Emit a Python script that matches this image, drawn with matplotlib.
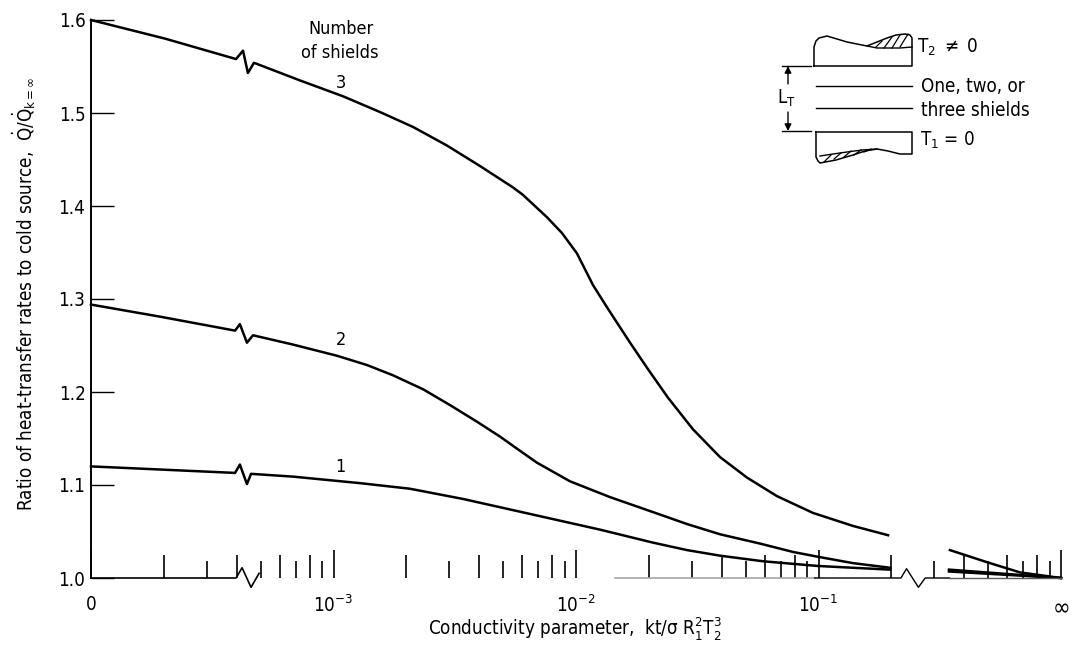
"""
Heat-transfer ratio vs conductivity parameter, one/two/three shields
(broken log axis: left end is 0, right end is infinity)
"""

import numpy as np
import matplotlib
matplotlib.use("Agg")
import matplotlib.pyplot as plt

plt.rcParams['font.family'] = ['DejaVu Sans']
plt.rcParams['font.stretch'] = 'condensed'
plt.rcParams['mathtext.fontset'] = 'custom'
plt.rcParams['mathtext.rm'] = 'DejaVu Sans:stretch=condensed'
plt.rcParams['mathtext.it'] = 'DejaVu Sans:stretch=condensed'
plt.rcParams['mathtext.bf'] = 'DejaVu Sans:stretch=condensed'
plt.rcParams['mathtext.fallback'] = 'stixsans'

# ---------------------------
# Curves (log10 of the parameter, ratio). nan = gap in the axis
# The little kinks near 10^-3.4 are the scale-break marks on each curve
# ---------------------------
nan = float('nan')

log_k3 = [-4.0, -3.695, -3.402, -3.373, -3.353, -3.328, -3.138, -2.961, -2.808, -2.672,
          -2.532, -2.396, -2.260, -2.219, -2.120, -2.058, -1.996, -1.930, -1.872, -1.777,
          -1.707, -1.621, -1.518, -1.406, -1.295, -1.171, -1.023, -0.858, -0.713, nan,
          -0.458, -0.305, -0.169, 0.0]
ratio3 = [1.600, 1.580, 1.558, 1.567, 1.543, 1.554, 1.535, 1.518, 1.501, 1.485,
          1.465, 1.443, 1.420, 1.412, 1.388, 1.371, 1.349, 1.315, 1.291, 1.253,
          1.226, 1.194, 1.160, 1.130, 1.108, 1.088, 1.070, 1.056, 1.046, nan,
          1.030, 1.017, 1.006, 1.000]

log_k2 = [-4.0, -3.715, -3.406, -3.386, -3.357, -3.332, -3.167, -2.986, -2.862, -2.755,
          -2.631, -2.520, -2.408, -2.313, -2.243, -2.161, -2.025, -1.860, -1.695, -1.542,
          -1.406, -1.241, -1.105, -1.006, -0.858, -0.705, nan, -0.462, 0.0]
ratio2 = [1.294, 1.281, 1.266, 1.273, 1.253, 1.261, 1.251, 1.239, 1.229, 1.218,
          1.203, 1.186, 1.168, 1.152, 1.139, 1.124, 1.104, 1.087, 1.072, 1.058,
          1.047, 1.037, 1.028, 1.023, 1.016, 1.011, nan, 1.009, 1.000]

log_k1 = [-4.0, -3.406, -3.386, -3.357, -3.340, -3.167, -2.891, -2.685, -2.466, -2.243,
          -1.901, -1.682, -1.542, -1.406, -1.229, -1.006, -0.858, -0.705, nan,
          -0.462, 0.0]
ratio1 = [1.120, 1.113, 1.122, 1.101, 1.112, 1.109, 1.102, 1.096, 1.085, 1.072,
          1.052, 1.038, 1.030, 1.024, 1.018, 1.013, 1.011, 1.009, nan,
          1.007, 1.000]

# Axis ticks
y_ticks = [1.0, 1.1, 1.2, 1.3, 1.4, 1.5, 1.6]
y_labels = ['1.0', '1.1', '1.2', '1.3', '1.4', '1.5', '1.6']
x_major = [1e-4, 1e-3, 1e-2, 1e-1, 1.0]
x_labels = ['0', '$10^{-3}$', '$10^{-2}$', '$10^{-1}$', r'$\infty$']
decades = [1e-4, 1e-3, 1e-2, 1e-1]
mid_mult = [2, 4, 6, 8]     # medium tick
short_mult = [3, 5, 7, 9]   # short tick

# Bottom axis pieces with the zig-zag break marks (log10 k, y)
base1_x = [-4.0, -3.402, -3.377, -3.340, -3.307]
base1_y = [1.0, 1.0, 1.011, 0.990, 1.005]
base2_x = [-1.84, -1.015]
base2_y = [1.0, 1.0]
base3_x = [-1.015, -0.70, -0.66, -0.637, -0.588, -0.56, -0.46]
base3_y = [1.0, 1.0, 1.0, 1.010, 0.990, 1.0, 1.0]
base4_x = [-0.46, 0.0]
base4_y = [1.0, 1.0]

# Inset sketch outline, in figure pixels
top_block_x = [814, 814, 816, 819, 827, 837, 847, 857, 867, 877, 887, 896, 905, 910, 912, 912, 814]
top_block_y = [66, 47, 41, 38, 36, 39, 42, 44, 46, 42, 38, 35, 34, 35, 38, 66, 66]
top_lens_x = [867, 877, 887, 900, 912]
top_lens_y = [46, 48, 48, 48, 47]
bot_block_x = [816, 816, 818, 820, 836, 853, 865, 877, 888, 900, 912, 912, 816]
bot_block_y = [132, 157, 161, 163, 160, 155, 151, 149, 151, 154, 154, 132, 132]
bot_lens_x = [820, 833, 847, 862, 877]
bot_lens_y = [156, 154, 152, 150, 149]
hatch = [((876, 47), (882, 41)), ((884, 48), (892, 37)), ((892, 48), (900, 35)), ((900, 47), (908, 34)),
         ((824, 162), (831, 155)), ((834, 159), (841, 153)), ((844, 157), (851, 151)),
         ((854, 155), (861, 150)), ((864, 152), (871, 149))]

fig = plt.figure(figsize=(10.72, 6.46), dpi=100)
ax = fig.add_axes([91 / 1072, 1 - 578 / 646, 970 / 1072, 558 / 646])

ax.plot(10 ** np.array(log_k3), ratio3, 'k-', lw=1.8, clip_on=False)
ax.plot(10 ** np.array(log_k2), ratio2, 'k-', lw=1.8, clip_on=False)
ax.plot(10 ** np.array(log_k1), ratio1, 'k-', lw=1.8, clip_on=False)

ax.plot(10 ** np.array(base1_x), base1_y, 'k-', lw=1.2, clip_on=False)
ax.plot(10 ** np.array(base2_x), base2_y, color='0.65', lw=1.2, clip_on=False)
ax.plot(10 ** np.array(base3_x), base3_y, 'k-', lw=1.0, clip_on=False)
ax.plot(10 ** np.array(base4_x), base4_y, color='0.35', lw=1.0, clip_on=False)

ax.set_xscale('log')
ax.set_xlim(1e-4, 1.0)
ax.set_ylim(1.0, 1.6)

for side in ['top', 'right', 'bottom']:
    ax.spines[side].set_visible(False)
ax.spines['left'].set_linewidth(1.4)

ax.set_yticks(y_ticks)
ax.set_yticklabels(y_labels, fontsize=13.5)
ax.tick_params(axis='y', direction='in', length=16.5, width=1.0, pad=4)

ax.set_xticks(x_major)
ax.set_xticklabels(x_labels, fontsize=13.5)
ax.tick_params(axis='x', which='major', direction='in', length=20, width=1.2, pad=12)
ax.get_xticklabels()[-1].set_fontsize(17)

# three tick heights, so the minor ones get their length one at a time
mid = [d * m for d in decades for m in mid_mult]
short = [d * m for d in decades for m in short_mult]
minor = sorted(mid + short)
ax.set_xticks(minor, minor=True)
ax.set_xticklabels([''] * len(minor), minor=True)
ax.tick_params(axis='x', which='minor', direction='in', length=16.5, width=1.2)
for tick, loc in zip(ax.xaxis.get_minor_ticks(), minor):
    is_short = any(abs(loc - s) < 1e-9 for s in short)
    tick.tick1line.set_markersize(12 if is_short else 16.5)

ax.text(10 ** -2.97, 1.590, 'Number', ha='center', va='center', fontsize=13)
ax.text(10 ** -2.975, 1.565, 'of shields', ha='center', va='center', fontsize=13)
ax.text(10 ** -2.97, 1.532, '3', ha='center', va='center', fontsize=13)
ax.text(10 ** -2.97, 1.256, '2', ha='center', va='center', fontsize=13)
ax.text(10 ** -2.97, 1.119, '1', ha='center', va='center', fontsize=13)

fig.text(24 / 1072, 1 - 294 / 646,
         r'Ratio of heat-transfer rates to cold source,  $\dot{Q}/\dot{Q}_{k=\infty}$',
         rotation=90, ha='center', va='center', fontsize=13.5)
fig.text(575 / 1072, 1 - 628 / 646,
         r'Conductivity parameter,  kt/$\sigma$ R$_1^2$T$_2^3$',
         ha='center', va='center', fontsize=13.5)

# ---------------------------
# Inset sketch (overlay axes in pixel coordinates)
# ---------------------------
ov = fig.add_axes([0, 0, 1, 1])
ov.set_xlim(0, 1072)
ov.set_ylim(646, 0)
ov.axis('off')
ov.patch.set_alpha(0)

ov.plot(top_block_x, top_block_y, 'k-', lw=1.1)
ov.plot(top_lens_x, top_lens_y, 'k-', lw=1.0)
ov.plot(bot_block_x, bot_block_y, 'k-', lw=1.1)
ov.plot(bot_lens_x, bot_lens_y, 'k-', lw=1.0)
for p0, p1 in hatch:
    ov.plot([p0[0], p1[0]], [p0[1], p1[1]], 'k-', lw=0.9)

ov.plot([816, 912], [86, 86], 'k-', lw=1.0)
ov.plot([816, 912], [108, 108], 'k-', lw=1.0)
ov.plot([782, 811], [66, 66], 'k-', lw=1.0)
ov.plot([782, 811], [131, 131], 'k-', lw=1.0)
ov.annotate('', xy=(788, 66), xytext=(788, 84),
            arrowprops=dict(arrowstyle='-|>', color='k', lw=1.0, mutation_scale=10, shrinkA=0, shrinkB=0))
ov.annotate('', xy=(788, 131), xytext=(788, 112),
            arrowprops=dict(arrowstyle='-|>', color='k', lw=1.0, mutation_scale=10, shrinkA=0, shrinkB=0))

ov.text(786, 98, r'L$_{\mathrm{T}}$', ha='center', va='center', fontsize=13.5)
ov.text(917, 47, r'T$_2$ $\neq$ 0', ha='left', va='center', fontsize=13.5)
ov.text(921, 87, 'One, two, or', ha='left', va='center', fontsize=13.5)
ov.text(921, 110, 'three shields', ha='left', va='center', fontsize=13.5)
ov.text(920, 140, r'T$_1$ = 0', ha='left', va='center', fontsize=13.5)

fig.savefig('out.png', dpi=100)
